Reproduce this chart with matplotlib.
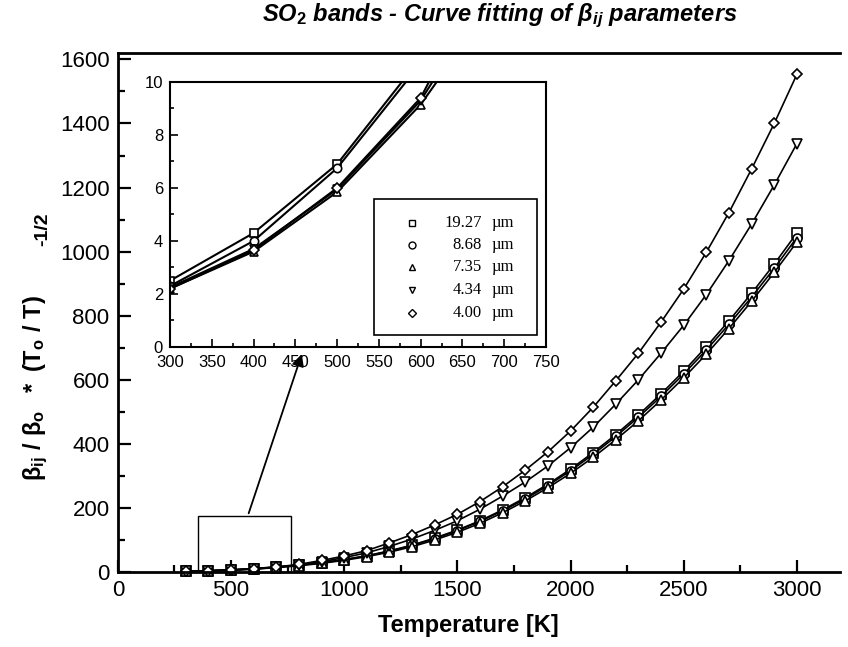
"Bandas de SO2 - ajuste de curvas de los parametros beta_ij"

import numpy as np
import matplotlib.pyplot as plt
from matplotlib.patches import Rectangle

plt.rcParams['font.family'] = ['Liberation Sans', 'DejaVu Sans']
plt.rcParams['mathtext.fontset'] = 'custom'
plt.rcParams['mathtext.rm'] = 'Liberation Sans:bold'
plt.rcParams['mathtext.it'] = 'Liberation Sans:bold:italic'
plt.rcParams['mathtext.bf'] = 'Liberation Sans:bold'

# datos (cada 100 K)
temperatura = [300, 400, 500, 600, 700, 800, 900, 1000, 1100, 1200, 1300, 1400, 1500, 1600,
               1700, 1800, 1900, 2000, 2100, 2200, 2300, 2400, 2500, 2600, 2700, 2800, 2900, 3000]

bandas = ['19.27', '8.68', '7.35', '4.34', '4.00']
marcadores = ['s', 'o', '^', 'v', 'D']

beta_1927 = [2.5, 4.3, 6.9, 10.9, 15.8, 21.5, 29, 39, 51, 66, 84, 106, 131, 160,
             194, 232, 274, 321, 373, 429, 490, 556, 627, 703, 784, 870, 961, 1058]
beta_868 = [2.3, 4.0, 6.75, 10.7, 15.6, 21.2, 28.5, 38.5, 50, 65, 83, 104, 129, 158,
            191, 228, 270, 316, 367, 423, 483, 548, 618, 693, 773, 858, 948, 1044]
beta_735 = [2.2, 3.6, 5.85, 9.15, 13.6, 19.5, 27, 36.5, 48, 62, 79, 100, 124, 152,
            185, 222, 263, 308, 358, 413, 472, 537, 606, 680, 760, 845, 935, 1030]
beta_434 = [2.25, 3.7, 5.95, 9.3, 14.3, 22, 32, 45, 60, 80, 103, 130, 160, 196,
            237, 281, 331, 388, 452, 524, 600, 683, 770, 866, 972, 1086, 1208, 1337]
beta_400 = [2.2, 3.65, 6.0, 9.4, 15.5, 24, 36, 50, 67, 91, 117, 147, 180, 220,
            266, 318, 375, 440, 514, 597, 683, 780, 883, 998, 1122, 1258, 1400, 1553]

series = [beta_1927, beta_868, beta_735, beta_434, beta_400]

fig = plt.figure(figsize=(8.48, 6.47), dpi=100)
ax = fig.add_axes([0.139, 0.1159, 0.8514, 0.8022])

for valores, m in zip(series, marcadores):
    ms = 5.5 if m == 'D' else 6.5
    ax.plot(temperatura, valores, color='black', linewidth=1.2, marker=m, markersize=ms,
            markerfacecolor='white', markeredgecolor='black', markeredgewidth=1.2, clip_on=False)

ax.set_xlim(0, 3190)
ax.set_ylim(0, 1620)
ax.set_xticks(np.arange(0, 3001, 500))
ax.set_xticks(np.arange(0, 3001, 250), minor=True)
ax.set_yticks(np.arange(0, 1601, 200))
ax.set_yticks(np.arange(0, 1601, 100), minor=True)
ax.tick_params(which='both', direction='in', width=1.6, labelsize=16, pad=6)
ax.tick_params(which='major', length=9)
ax.tick_params(which='minor', length=5)
for lado in ['left', 'bottom', 'top']:
    ax.spines[lado].set_linewidth(2)
ax.spines['right'].set_visible(False)

# recuadro de la zona ampliada y flecha
ax.add_patch(Rectangle((354, 0), 409, 175, fill=False, edgecolor='black', linewidth=1.0))
ax.annotate('', xy=(0.357, 0.457), xycoords='figure fraction', xytext=(574, 175),
            textcoords='data',
            arrowprops=dict(arrowstyle='-|>', color='black', linewidth=1.3, mutation_scale=18))

fig.text(0.589, 0.975, r'SO$_{\mathbf{2}}$ bands - Curve fitting of $\beta_{ij}$ parameters',
         ha='center', va='center', fontsize=17, fontweight='bold', style='italic')
fig.text(0.552, 0.034, 'Temperature [K]', ha='center', va='center', fontsize=17, fontweight='bold')
fig.text(0.042, 0.40, r'$\mathrm{\beta_{ij}\ /\ \beta_o\ \ *\ (T_o\ /\ T)}$',
         rotation=90, ha='center', va='center', fontsize=17)
fig.text(0.05, 0.645, '-1/2', rotation=90, ha='center', va='center', fontsize=14,
         fontweight='bold')

# grafico ampliado
axin = fig.add_axes([0.2005, 0.4637, 0.4434, 0.4096])
for valores, m in zip(series, marcadores):
    ms = 5 if m == 'D' else 6
    axin.plot(temperatura, valores, color='black', linewidth=1.5, marker=m, markersize=ms,
              markerfacecolor='white', markeredgecolor='black', markeredgewidth=1.2)

axin.set_xlim(300, 750)
axin.set_ylim(0, 10)
axin.set_xticks(np.arange(300, 751, 50))
axin.set_xticks(np.arange(300, 751, 25), minor=True)
axin.set_yticks(np.arange(0, 11, 2))
axin.set_yticks(np.arange(0, 11, 1), minor=True)
axin.tick_params(which='both', direction='in', width=1.2, labelsize=12)
axin.tick_params(axis='x', pad=6)
axin.tick_params(axis='y', pad=5)
axin.tick_params(which='major', length=6)
axin.tick_params(which='minor', length=3)
for lado in axin.spines:
    axin.spines[lado].set_linewidth(1.5)

# leyenda dibujada a mano
axin.add_patch(Rectangle((0.5426, 0.0453), 0.4335, 0.5132, transform=axin.transAxes,
                         facecolor='white', edgecolor='black', linewidth=1.2, zorder=5))
filas = [0.468, 0.385, 0.302, 0.215, 0.128]
for banda, m, yf in zip(bandas, marcadores, filas):
    ms = 4 if m == 'D' else 5
    axin.plot([0.6436], [yf], transform=axin.transAxes, marker=m, markersize=ms,
              markerfacecolor='white', markeredgecolor='black', markeredgewidth=1.0,
              linestyle='none', zorder=6)
    axin.text(0.83, yf, banda, transform=axin.transAxes, ha='right', va='center',
              fontsize=12, family='Liberation Serif', zorder=6)
    axin.text(0.856, yf, 'µm', transform=axin.transAxes, ha='left', va='center',
              fontsize=12, family='Liberation Serif', zorder=6)

fig.savefig('out.png', dpi=100)
print("Grafico guardado en: out.png")
